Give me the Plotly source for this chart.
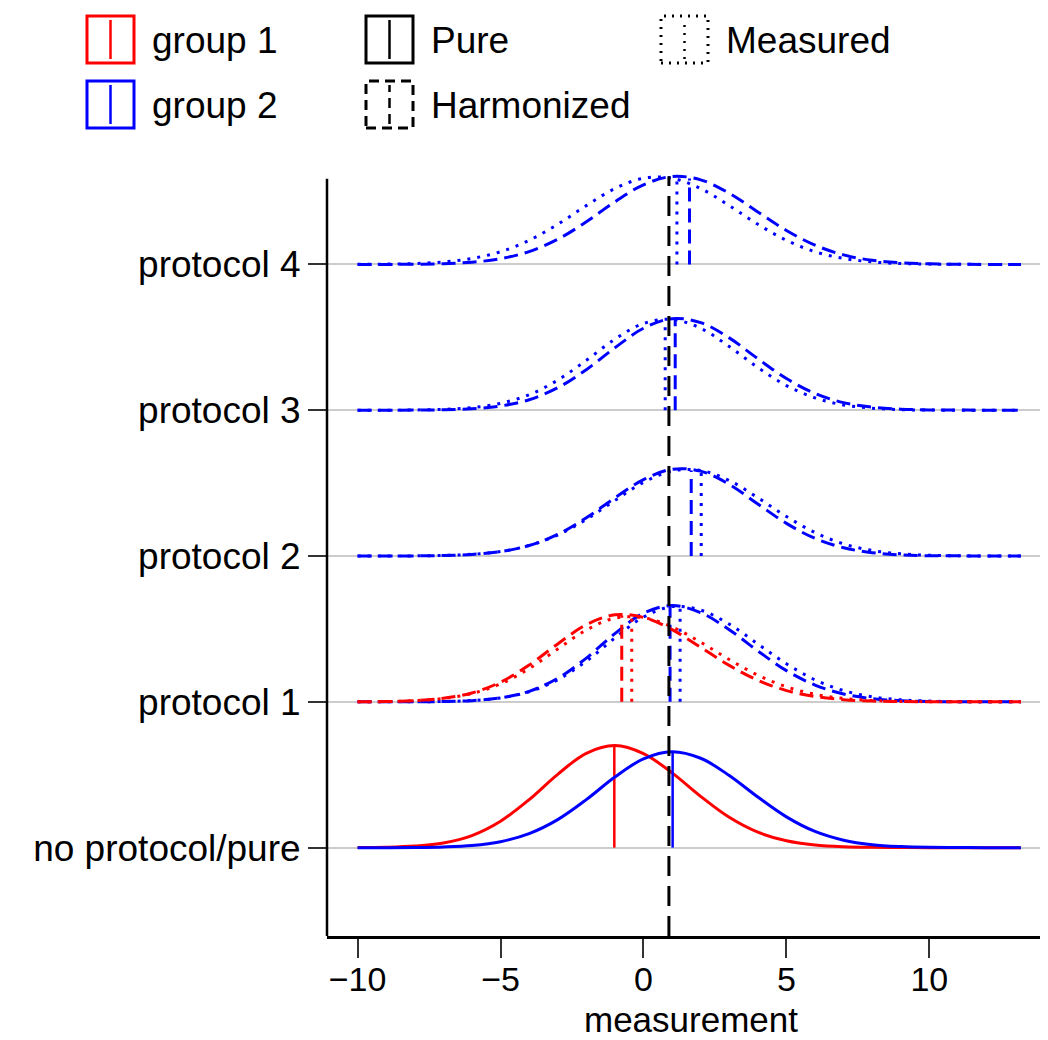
import numpy as np
import plotly.graph_objects as go

# ---------------- data ----------------
x_grid = [-10, -9, -8, -7, -6, -5, -4, -3, -2, -1, 0, 1, 2, 3, 4, 5, 6, 7, 8, 9, 10, 11, 12, 13.2]

categories = ["no protocol/pure", "protocol 1", "protocol 2", "protocol 3", "protocol 4"]

pure_g1 = [0.001, 0.003, 0.011, 0.032, 0.083, 0.181, 0.329, 0.503, 0.647, 0.700, 0.645, 0.513,
           0.352, 0.208, 0.106, 0.047, 0.018, 0.006, 0.002, 0.001, 0, 0, 0, 0]
pure_g2 = [0, 0, 0.001, 0.005, 0.015, 0.041, 0.096, 0.192, 0.329, 0.484, 0.609, 0.658,
           0.613, 0.495, 0.347, 0.211, 0.111, 0.051, 0.020, 0.007, 0.002, 0.001, 0, 0]

p1_g1_harm = [0, 0.002, 0.008, 0.024, 0.061, 0.135, 0.252, 0.397, 0.529, 0.597, 0.579, 0.495,
              0.374, 0.250, 0.148, 0.077, 0.036, 0.015, 0.005, 0.002, 0, 0, 0, 0]
p1_g1_meas = [0.001, 0.002, 0.008, 0.023, 0.057, 0.123, 0.228, 0.362, 0.492, 0.574, 0.577, 0.514,
              0.409, 0.290, 0.183, 0.103, 0.052, 0.023, 0.009, 0.003, 0.001, 0, 0, 0]
p1_g2_harm = [0, 0, 0, 0.002, 0.008, 0.027, 0.072, 0.161, 0.300, 0.468, 0.608, 0.660,
              0.612, 0.495, 0.349, 0.214, 0.115, 0.054, 0.022, 0.008, 0.002, 0.001, 0, 0]
p1_g2_meas = [0, 0, 0.001, 0.002, 0.009, 0.027, 0.069, 0.151, 0.279, 0.438, 0.581, 0.653,
              0.629, 0.533, 0.397, 0.261, 0.151, 0.077, 0.034, 0.014, 0.005, 0.001, 0, 0]

p2_g2_harm = [0, 0, 0.001, 0.003, 0.011, 0.030, 0.072, 0.148, 0.262, 0.399, 0.524, 0.595,
              0.582, 0.491, 0.357, 0.224, 0.121, 0.057, 0.023, 0.008, 0.002, 0.001, 0, 0]
p2_g2_meas = [0, 0, 0.001, 0.004, 0.012, 0.031, 0.072, 0.144, 0.251, 0.381, 0.505, 0.583,
              0.587, 0.518, 0.400, 0.271, 0.161, 0.083, 0.038, 0.015, 0.005, 0.002, 0, 0]

p3_g2_harm = [0, 0, 0.001, 0.003, 0.010, 0.029, 0.072, 0.154, 0.278, 0.428, 0.562, 0.628,
              0.601, 0.496, 0.353, 0.217, 0.115, 0.052, 0.021, 0.007, 0.002, 0.001, 0, 0]
p3_g2_meas = [0, 0, 0.002, 0.006, 0.018, 0.047, 0.106, 0.206, 0.342, 0.487, 0.595, 0.623,
              0.562, 0.437, 0.293, 0.169, 0.085, 0.036, 0.014, 0.004, 0.001, 0, 0, 0]

p4_g2_harm = [0, 0, 0.001, 0.005, 0.015, 0.039, 0.088, 0.172, 0.292, 0.429, 0.546, 0.603,
              0.580, 0.488, 0.360, 0.233, 0.132, 0.065, 0.028, 0.011, 0.004, 0.001, 0, 0]
p4_g2_meas = [0.001, 0.002, 0.006, 0.017, 0.041, 0.087, 0.165, 0.275, 0.403, 0.520, 0.591, 0.591,
              0.520, 0.403, 0.275, 0.165, 0.087, 0.041, 0.017, 0.006, 0.002, 0.001, 0, 0]

# vertical markers (measurement value of each curve's marker line)
vline_pure_g1 = -1.02
vline_pure_g2 = 1.02
vline_p1_g1_harm = -0.76
vline_p1_g1_meas = -0.41
vline_p1_g2_harm = 0.93
vline_p1_g2_meas = 1.28
vline_p2_g2_harm = 1.67
vline_p2_g2_meas = 2.02
vline_p3_g2_harm = 1.11
vline_p3_g2_meas = 0.76
vline_p4_g2_harm = 1.61
vline_p4_g2_meas = 1.17
reference_line = 0.89

x_ticks = [-10, -5, 0, 5, 10]

# ---------------- styling ----------------
RED = "#ff0000"
BLUE = "#0000ff"
FONT = "Liberation Sans, Arial, Helvetica, sans-serif"
DASH_HARM = "14px,7px"
DASH_MEAS = "3px,7px"
LW = 3

curves = [
    # (row, values, vline, colour, dash)
    (1, p1_g2_harm, vline_p1_g2_harm, BLUE, DASH_HARM),
    (1, p1_g2_meas, vline_p1_g2_meas, BLUE, DASH_MEAS),
    (1, p1_g1_harm, vline_p1_g1_harm, RED, DASH_HARM),
    (1, p1_g1_meas, vline_p1_g1_meas, RED, DASH_MEAS),
    (2, p2_g2_harm, vline_p2_g2_harm, BLUE, DASH_HARM),
    (2, p2_g2_meas, vline_p2_g2_meas, BLUE, DASH_MEAS),
    (3, p3_g2_harm, vline_p3_g2_harm, BLUE, DASH_HARM),
    (3, p3_g2_meas, vline_p3_g2_meas, BLUE, DASH_MEAS),
    (4, p4_g2_harm, vline_p4_g2_harm, BLUE, DASH_HARM),
    (4, p4_g2_meas, vline_p4_g2_meas, BLUE, DASH_MEAS),
    (0, pure_g1, vline_pure_g1, RED, "solid"),
    (0, pure_g2, vline_pure_g2, BLUE, "solid"),
]

fig = go.Figure()
xg = np.array(x_grid, dtype=float)
for row, vals, vx, col, dash in curves:
    v = np.array(vals, dtype=float)
    fig.add_trace(go.Scatter(
        x=xg, y=row + v, mode="lines", line=dict(color=col, width=LW, dash=dash, shape="spline"),
        showlegend=False, hoverinfo="skip"))
    top = float(np.interp(vx, xg, v))
    fig.add_trace(go.Scatter(
        x=[vx, vx], y=[row, row + top], mode="lines",
        line=dict(color=col, width=2.5 if dash == "solid" else LW, dash=dash),
        showlegend=False, hoverinfo="skip"))

Y_LO, Y_HI = -0.606, 4.62
AXIS_TOP = 4.587
fig.add_trace(go.Scatter(
    x=[reference_line, reference_line], y=[Y_LO, 4.605], mode="lines",
    line=dict(color="black", width=3, dash="20px,10px"), showlegend=False, hoverinfo="skip"))

# page is shown with an 8px body margin: margins are compensated for it
OFF = 8
L, R, T, B = 327 - OFF, OFF, 166, 112
WIDTH, HEIGHT = 1048, 1040
PW, PH = WIDTH - L - R, HEIGHT - T - B
BOTTOM_PAGE = HEIGHT - B + OFF


def px(x):
    return (x - (L + OFF)) / PW


def py(y):
    return (BOTTOM_PAGE - y) / PH


# ---------------- custom legend ----------------
legend_items = [
    (87, 16, RED, "solid", "group 1"),
    (87, 81, BLUE, "solid", "group 2"),
    (366, 16, "black", "solid", "Pure"),
    (366, 81, "black", "dash", "Harmonized"),
    (661, 16, "black", "dot", "Measured"),
]
BOX = 47
shapes = []
annotations = []
for bx, by, col, dash, label in legend_items:
    d = {"solid": "solid", "dash": "10px,6px", "dot": "2px,6px"}[dash]
    shapes.append(dict(type="rect", xref="paper", yref="paper",
                       x0=px(bx), x1=px(bx + BOX), y0=py(by + BOX), y1=py(by),
                       line=dict(color=col, width=3, dash=d), fillcolor="rgba(0,0,0,0)"))
    shapes.append(dict(type="line", xref="paper", yref="paper",
                       x0=px(bx + BOX / 2), x1=px(bx + BOX / 2), y0=py(by + BOX - 4), y1=py(by + 4),
                       line=dict(color=col, width=2.5, dash=d)))
    annotations.append(dict(xref="paper", yref="paper", x=px(bx + BOX + 16), y=py(by + BOX / 2 + 1),
                            xanchor="left", yanchor="middle", text=label, showarrow=False,
                            font=dict(family=FONT, size=37, color="black")))

# y axis line (drawn as a shape so curves may rise above it)
shapes.append(dict(type="line", xref="paper", yref="y", x0=0, x1=0, y0=Y_LO, y1=AXIS_TOP,
                   line=dict(color="black", width=2.5), layer="above"))

# x axis title
annotations.append(dict(xref="paper", yref="paper", x=px(691), y=py(1039.5), xanchor="center",
                        yanchor="bottom", text="measurement", showarrow=False, borderpad=0,
                        font=dict(family=FONT, size=35, color="black")))

fig.update_layout(
    width=WIDTH, height=HEIGHT,
    margin=dict(l=L, r=R, t=T, b=B, pad=0, autoexpand=False),
    paper_bgcolor="white", plot_bgcolor="white",
    font=dict(family=FONT, size=35, color="black"),
    shapes=shapes, annotations=annotations,
    xaxis=dict(range=[-11.07, 14.15], tickvals=x_ticks, showgrid=False, zeroline=False,
               showline=True, linecolor="black", linewidth=2.5,
               ticks="outside", ticklen=19, tickwidth=2, tickcolor="#333333",
               ticklabelstandoff=-8,
               tickfont=dict(family=FONT, size=34, color="black")),
    yaxis=dict(range=[Y_LO, Y_HI], tickvals=list(range(len(categories))), ticktext=categories,
               showgrid=True, gridcolor="#cccccc", gridwidth=1.5, zeroline=False,
               showline=False,
               ticks="outside", ticklen=18, tickwidth=2, tickcolor="#333333",
               tickfont=dict(family=FONT, size=37, color="black")),
)

fig.write_html("out.html")
